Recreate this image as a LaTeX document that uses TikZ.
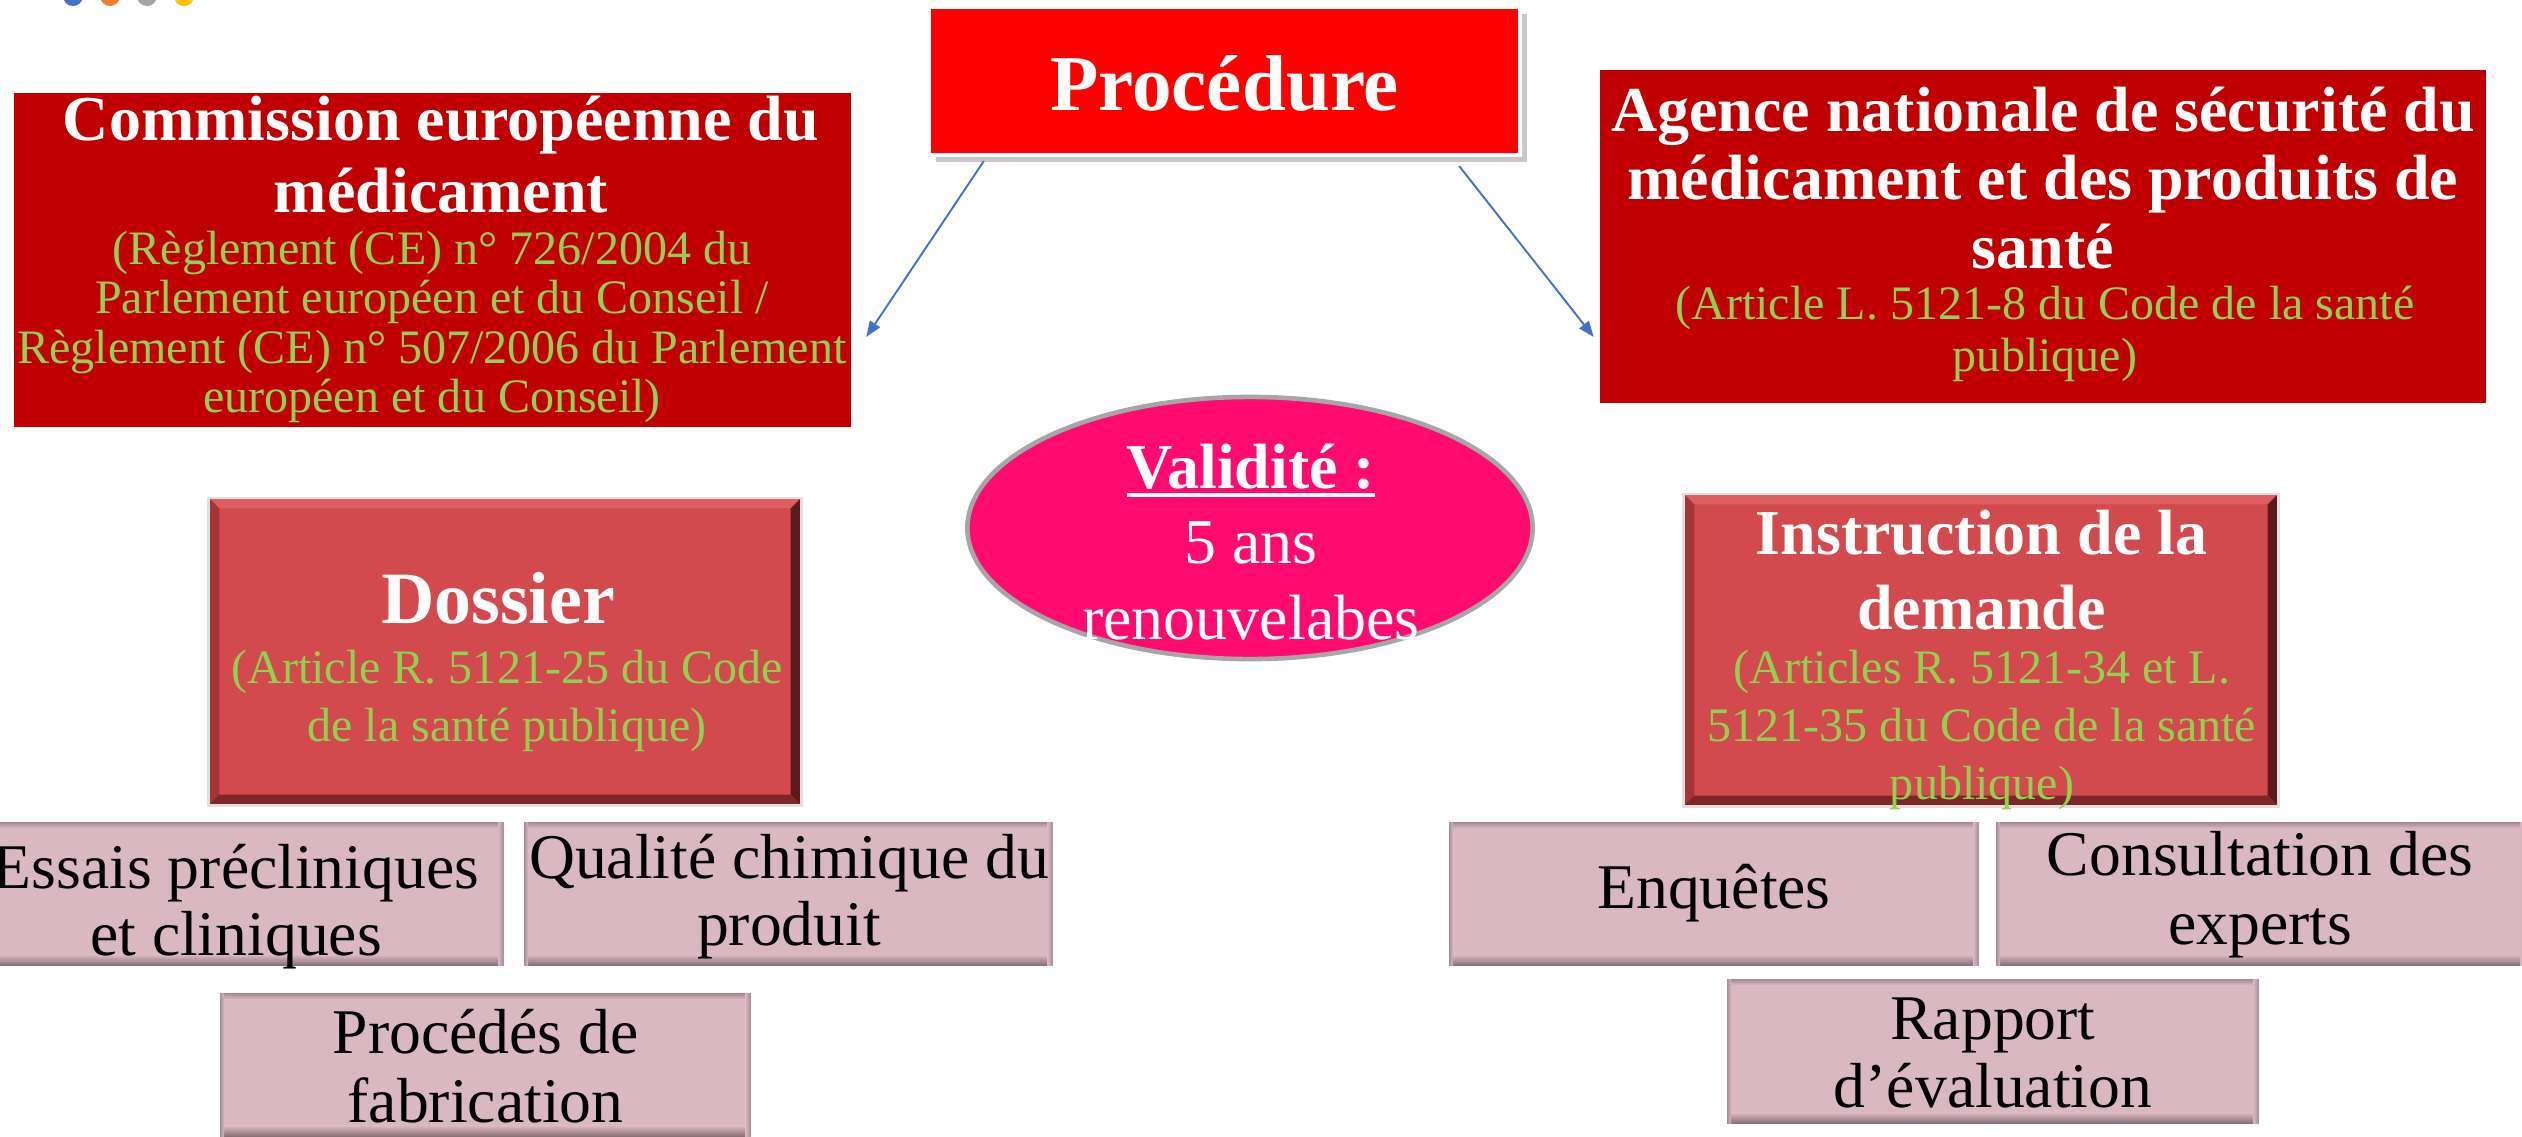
\documentclass[tikz,border=0pt]{standalone}
\usepackage{fontspec}
\setmainfont{Liberation Serif}
\usetikzlibrary{shadows,arrows.meta,shapes.geometric,calc}
\definecolor{procred}{HTML}{FF0000}
\definecolor{darkred}{HTML}{C00000}
\definecolor{bevred}{HTML}{D24A4D}
\definecolor{bevtop}{HTML}{DE5F62}
\definecolor{bevleft}{HTML}{A33538}
\definecolor{bevright}{HTML}{5C1A1C}
\definecolor{bevbot}{HTML}{7E2628}
\definecolor{greenref}{HTML}{92D050}
\definecolor{ellpink}{HTML}{FF0A6E}
\definecolor{pinkbox}{HTML}{D9B8C1}
\definecolor{pinkdark}{HTML}{7A6168}
\definecolor{pinkedge}{HTML}{9A8088}
\definecolor{arrowblue}{HTML}{4472C4}
\definecolor{dotblue}{HTML}{4472C4}
\definecolor{dotorange}{HTML}{ED7D31}
\definecolor{dotgray}{HTML}{A5A5A5}
\definecolor{dotyellow}{HTML}{FFC000}
\newcommand\myul[1]{\setbox0\hbox{#1}\rlap{\rule[-2.4pt]{\wd0}{1.1pt}}\box0}
\begin{document}
\begin{tikzpicture}[x=0.01cm,y=-0.01cm,
  basebox/.style={rectangle, inner sep=0pt, outer sep=0pt},
  procbox/.style={basebox, fill=procred, draw=white, line width=1pt,
    drop shadow={shadow xshift=2pt, shadow yshift=-2pt, fill=black, opacity=0.22}},
  darkbox/.style={basebox, fill=darkred},
  bevbox/.style={basebox, fill=bevred, draw=black!12, line width=0.8pt,
    path picture={
      \coordinate (pnw) at (path picture bounding box.north west);
      \coordinate (pne) at (path picture bounding box.north east);
      \coordinate (psw) at (path picture bounding box.south west);
      \coordinate (pse) at (path picture bounding box.south east);
      \fill[bevtop] (pnw) -- (pne) -- ($(pne)+(-3pt,-3pt)$) -- ($(pnw)+(3pt,-3pt)$) -- cycle;
      \fill[bevleft] (pnw) -- (psw) -- ($(psw)+(3pt,3pt)$) -- ($(pnw)+(3pt,-3pt)$) -- cycle;
      \fill[bevright] (pne) -- (pse) -- ($(pse)+(-3pt,3pt)$) -- ($(pne)+(-3pt,-3pt)$) -- cycle;
      \fill[bevbot] (psw) -- (pse) -- ($(pse)+(-3pt,3pt)$) -- ($(psw)+(3pt,3pt)$) -- cycle;
    }},
  pinkstyle/.style={basebox, fill=pinkbox, draw=white, line width=0.6pt,
    path picture={
      \coordinate (pnw) at (path picture bounding box.north west);
      \coordinate (pne) at (path picture bounding box.north east);
      \coordinate (psw) at (path picture bounding box.south west);
      \coordinate (pse) at (path picture bounding box.south east);
      \shade[top color=pinkbox, bottom color=pinkdark] ($(psw)+(0pt,3.5pt)$) rectangle (pse);
      \shade[top color=pinkedge, bottom color=pinkbox] (pnw) rectangle ($(pne)+(0pt,-2pt)$);
      \shade[left color=pinkbox, right color=pinkedge] ($(pne)+(-2pt,0pt)$) rectangle (pse);
      \shade[left color=pinkedge, right color=pinkbox] (pnw) rectangle ($(psw)+(1.5pt,0pt)$);
    }},
  ellstyle/.style={ellipse, fill=ellpink, draw=gray!70, line width=1.3pt, inner sep=0pt},
  txt/.style={inner sep=0pt, align=center},
  titletxt/.style={txt, text=white, font=\bfseries\fontsize{18.2}{20.5}\selectfont},
  reftxt/.style={txt, text=greenref, font=\fontsize{13.66}{14.1}\selectfont},
  smalltxt/.style={txt, text=black, font=\fontsize{18.1}{19}\selectfont},
  arr/.style={draw=arrowblue, line width=0.55pt, -{Triangle[length=4.5pt,width=3.4pt]}}
]
\useasboundingbox (0,0) rectangle (2522,1136);
\begin{scope}
\clip (0,0) rectangle (2522,1136);
% loading dots
\fill[dotblue] (73,-4) circle[radius=0.1cm];
\fill[dotorange] (110,-4) circle[radius=0.1cm];
\fill[dotgray] (147,-4) circle[radius=0.1cm];
\fill[dotyellow] (184,-4) circle[radius=0.1cm];

% top row
\node[procbox, minimum width=5.91cm, minimum height=1.48cm] (proc) at (1224.5,81) {};
\node[txt, anchor=base, text=white, font=\bfseries\fontsize{22.5}{26}\selectfont] (proctxt) at (1224.5,110) {Procédure};

\node[darkbox, minimum width=8.37cm, minimum height=3.34cm] (com) at (432.5,260) {};
\node[titletxt] (comtitle) at (441,155) {Commission européenne du\\médicament};
\node[reftxt] (comref) at (432,327) {(Règlement (CE) n° 726/2004 du\\Parlement européen et du Conseil /\\Règlement (CE) n° 507/2006 du Parlement\\européen et du Conseil)};

\node[darkbox, minimum width=8.86cm, minimum height=3.33cm] (age) at (2043,236.5) {};
\node[titletxt, font=\bfseries\fontsize{18.2}{19.4}\selectfont] (agetitle) at (2043,178) {Agence nationale de sécurité du\\médicament et des produits de\\santé};
\node[reftxt, font=\fontsize{13.66}{15}\selectfont] (ageref) at (2045,334) {(Article L. 5121-8 du Code de la santé\\publique)};

% arrows
\draw[arr] ([shift={(55,6)}]proc.south west) -- ([shift={(15,77)}]com.east);
\draw[arr] ([shift={(-61,11)}]proc.south east) -- ([shift={(-6,100.5)}]age.west);

% middle row
\node[bevbox, minimum width=5.92cm, minimum height=3.07cm] (dos) at (505,651.5) {};
\node[txt, anchor=base, text=white, font=\bfseries\fontsize{21}{24}\selectfont] (dostitle) at (498,623) {Dossier};
\node[reftxt, font=\fontsize{13.66}{16.5}\selectfont] (dosref) at (507,701) {(Article R. 5121-25 du Code\\de la santé publique)};

\node[ellstyle, minimum width=5.65cm, minimum height=2.62cm] (ell) at (1250,528) {};
\node[txt, text=white, font=\fontsize{18.2}{21.5}\selectfont] (elltxt) at (1251,542) {\myul{\textbf{Validité :}}\\5 ans\\renouvelabes};

\node[bevbox, minimum width=5.94cm, minimum height=3.12cm] (ins) at (1981,650) {};
\node[titletxt, font=\bfseries\fontsize{18.2}{21.5}\selectfont] (institle) at (1981.5,570) {Instruction de la\\demande};
\node[reftxt, font=\fontsize{13.66}{16.5}\selectfont] (insref) at (1982,730) {(Articles R. 5121-34 et L.\\5121-35 du Code de la santé\\publique)};

% bottom boxes
\node[pinkstyle, minimum width=5.32cm, minimum height=1.46cm] (ess) at (239,894) {};
\node[smalltxt] (esstxt) at (236,907) {Essais précliniques\\et cliniques};
\node[pinkstyle, minimum width=5.31cm, minimum height=1.46cm] (qua) at (788.5,894) {};
\node[smalltxt] (quatxt) at (789,897) {Qualité chimique du\\produit};
\node[pinkstyle, minimum width=5.33cm, minimum height=1.46cm] (pro) at (485.5,1065) {};
\node[smalltxt, font=\fontsize{18.1}{19.6}\selectfont] (protxt) at (485.5,1066) {Procédés de\\fabrication};

\node[pinkstyle, minimum width=5.32cm, minimum height=1.46cm] (enq) at (1714,894) {};
\node[smalltxt] (enqtxt) at (1714,893) {Enquêtes};
\node[pinkstyle, minimum width=5.32cm, minimum height=1.46cm] (con) at (2261,894) {};
\node[smalltxt, font=\fontsize{18.1}{19.6}\selectfont] (contxt) at (2260,895) {Consultation des\\experts};
\node[pinkstyle, minimum width=5.34cm, minimum height=1.47cm] (rap) at (1993,1051.5) {};
\node[smalltxt, font=\fontsize{18.1}{19.2}\selectfont] (raptxt) at (1993,1053) {Rapport\\d’évaluation};
\end{scope}
\end{tikzpicture}
\end{document}
